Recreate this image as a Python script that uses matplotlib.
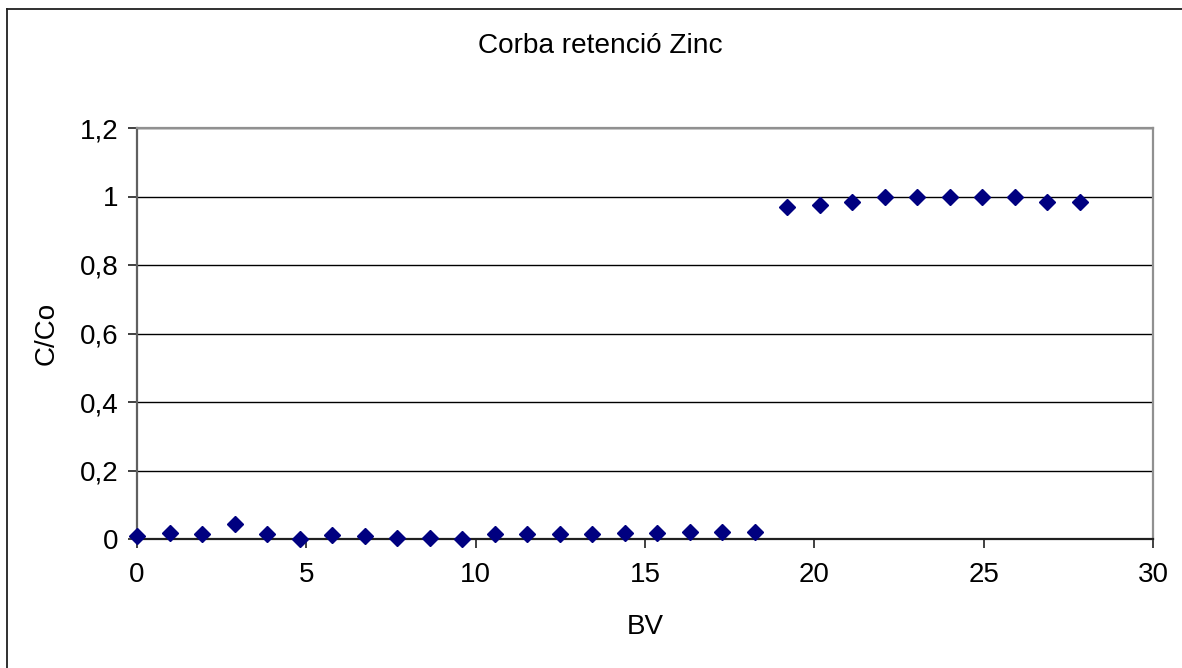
import matplotlib
matplotlib.use("Agg")
import matplotlib.pyplot as plt
from matplotlib.lines import Line2D
from matplotlib.ticker import FuncFormatter

plt.rcParams['font.family'] = ['Liberation Sans', 'DejaVu Sans']

# Bed volumes and normalised concentration C/Co
bv = [0.0, 0.96, 1.92, 2.88, 3.84, 4.80, 5.76, 6.72, 7.68, 8.64,
      9.60, 10.56, 11.52, 12.48, 13.44, 14.40, 15.36, 16.32, 17.28, 18.24,
      19.20, 20.16, 21.12, 22.08, 23.04, 24.00, 24.96, 25.92, 26.88, 27.84]
c_co = [0.010, 0.018, 0.014, 0.043, 0.016, 0.000, 0.012, 0.010, 0.002, 0.002,
        0.001, 0.015, 0.016, 0.016, 0.016, 0.018, 0.017, 0.019, 0.019, 0.020,
        0.970, 0.975, 0.985, 0.998, 1.000, 1.000, 1.000, 1.000, 0.983, 0.983]

x_ticks = [0, 5, 10, 15, 20, 25, 30]
y_ticks = [0, 0.2, 0.4, 0.6, 0.8, 1.0, 1.2]

W, H = 1182, 668
fig = plt.figure(figsize=(W / 100, H / 100), dpi=100)
fig.patch.set_facecolor('white')

ax = fig.add_axes([137 / W, 1 - 539 / H, (1153 - 137) / W, (539 - 128) / H])
ax.plot(bv, c_co, linestyle='none', marker='D', markersize=8.2,
        color='#000080', markeredgecolor='#000080', clip_on=False, zorder=3)

ax.set_xlim(0, 30)
ax.set_ylim(0, 1.2)
ax.set_xticks(x_ticks)
ax.set_yticks(y_ticks)


def comma_fmt(v, pos):
    s = ('%.1f' % v).rstrip('0').rstrip('.')
    return s.replace('.', ',')


ax.yaxis.set_major_formatter(FuncFormatter(comma_fmt))
ax.xaxis.set_major_formatter(FuncFormatter(comma_fmt))

ax.yaxis.grid(True, color='black', linewidth=1.0)
ax.set_axisbelow(True)

ax.spines['left'].set_color('#606060')
ax.spines['top'].set_color('#909090')
ax.spines['right'].set_color('#909090')
ax.spines['bottom'].set_color('#202020')
for s in ax.spines.values():
    s.set_linewidth(1.6)

ax.tick_params(axis='both', direction='out', length=6.5, width=1.2,
               colors='#202020', labelcolor='black', labelsize=20)
ax.tick_params(axis='y', pad=7)
ax.tick_params(axis='x', pad=10)

fig.text(47 / W, 1 - 333 / H, 'C/Co', rotation=90, ha='center', va='center',
         fontsize=20)
fig.text(645 / W, 1 - 627 / H, 'BV', ha='center', va='center', fontsize=20)
fig.text(600 / W, 1 - 46 / H, 'Corba retenció Zinc', ha='center', va='center',
         fontsize=20.2)

# Chart area frame (left and top edges)
fig.add_artist(Line2D([6.5 / W, 6.5 / W], [0, 1 - 9 / H], transform=fig.transFigure,
                      color='#202020', linewidth=1.3))
fig.add_artist(Line2D([6.5 / W, 1], [1 - 9 / H, 1 - 9 / H], transform=fig.transFigure,
                      color='#202020', linewidth=1.3))

fig.savefig('out.png', dpi=100)
